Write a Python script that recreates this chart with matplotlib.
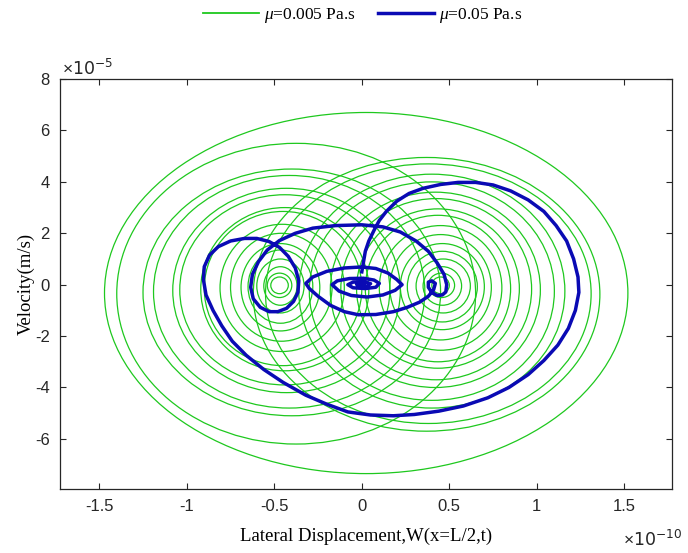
import matplotlib
matplotlib.use("Agg")
import matplotlib.pyplot as plt
from matplotlib.patches import Ellipse
import numpy as np

plt.rcParams['axes.unicode_minus'] = False
plt.rcParams['mathtext.fontset'] = 'custom'
plt.rcParams['mathtext.rm'] = 'Liberation Sans'
plt.rcParams['mathtext.it'] = 'Liberation Serif:italic'

# mu = 0.005 Pa.s : closed loops
# (left edge, right edge, top, bottom) in units of 1e-10 m and 1e-5 m/s
left_L = [-0.52, -0.54, -0.56, -0.60, -0.65, -0.69, -0.75, -0.81, -0.90, -0.92, -1.04, -1.08, -1.19, -1.25, -1.40]
left_R = [-0.42, -0.40, -0.37, -0.33, -0.28, -0.24, -0.17, -0.10, 0.00, 0.04, 0.16, 0.22, 0.36, 0.45, 0.65]
left_T = [0.3, 0.45, 0.7, 1.0, 1.35, 1.6, 2.0, 2.35, 2.85, 3.0, 3.5, 3.75, 4.25, 4.5, 5.5]
left_B = [-0.35, -0.5, -0.8, -1.1, -1.5, -1.8, -2.2, -2.6, -3.15, -3.35, -3.9, -4.2, -4.8, -5.1, -6.2]

right_L = [0.40, 0.38, 0.35, 0.31, 0.26, 0.22, 0.16, 0.10, 0.02, -0.03, -0.12, -0.18, -0.30, -0.36, -0.55, -0.62]
right_R = [0.50, 0.53, 0.57, 0.62, 0.66, 0.70, 0.74, 0.80, 0.85, 0.90, 0.97, 1.02, 1.10, 1.16, 1.31, 1.36]
right_T = [0.3, 0.45, 0.7, 1.0, 1.3, 1.6, 1.95, 2.3, 2.7, 2.95, 3.35, 3.6, 4.0, 4.3, 4.7, 4.95]
right_B = [-0.35, -0.5, -0.8, -1.1, -1.45, -1.75, -2.15, -2.55, -3.0, -3.25, -3.7, -4.0, -4.5, -4.8, -5.4, -5.7]

outer_L = [-1.47]
outer_R = [1.52]
outer_T = [6.7]
outer_B = [-7.35]

# mu = 0.05 Pa.s : trajectory points
blue_x = [0.0, 0.01, 0.02, 0.04, 0.07, 0.1, 0.14, 0.2, 0.27, 0.35, 0.45, 0.55, 0.65, 0.75, 0.85,
          0.95, 1.04, 1.11, 1.17, 1.21, 1.235, 1.24, 1.22, 1.18, 1.12, 1.04, 0.95, 0.84, 0.72,
          0.58, 0.44, 0.3, 0.18, 0.05, -0.08, -0.2, -0.32, -0.45, -0.56, -0.66, -0.74, -0.8,
          -0.85, -0.89, -0.905, -0.9, -0.87, -0.82, -0.75, -0.67, -0.6, -0.53, -0.47, -0.42,
          -0.38, -0.36, -0.365, -0.39, -0.43, -0.48, -0.53, -0.58, -0.62, -0.635, -0.625, -0.59,
          -0.54, -0.47, -0.38, -0.28, -0.15, 0.0, 0.12, 0.22, 0.31, 0.38, 0.43, 0.47, 0.485,
          0.48, 0.46, 0.43, 0.40, 0.38, 0.38, 0.40, 0.42, 0.41, 0.38, 0.33, 0.26, 0.18, 0.08,
          -0.02, -0.1, -0.18, -0.25, -0.3, -0.32, -0.28, -0.2, -0.1, 0.0, 0.08, 0.15, 0.2, 0.23,
          0.19, 0.12, 0.03, -0.06, -0.13, -0.17, -0.14, -0.07, 0.01, 0.07, 0.1, 0.08, 0.02,
          -0.05, -0.08, -0.05, 0.01, 0.05, 0.03, -0.02, -0.03, 0.0, 0.01]
blue_y = [0.5, 0.9, 1.3, 1.7, 2.12, 2.5, 2.85, 3.25, 3.55, 3.75, 3.9, 3.98, 3.98, 3.88, 3.65,
          3.3, 2.85, 2.3, 1.7, 1.0, 0.3, -0.3, -1.0, -1.7, -2.35, -2.95, -3.5, -4.0, -4.4,
          -4.72, -4.92, -5.05, -5.1, -5.07, -4.95, -4.65, -4.3, -3.8, -3.3, -2.75, -2.2, -1.6,
          -1.0, -0.4, 0.2, 0.7, 1.15, 1.48, 1.7, 1.8, 1.8, 1.68, 1.45, 1.1,
          0.65, 0.15, -0.3, -0.65, -0.92, -1.05, -1.05, -0.88, -0.55, -0.1, 0.4, 0.9,
          1.35, 1.72, 2.0, 2.2, 2.3, 2.33, 2.25, 2.05, 1.7, 1.3, 0.85, 0.4, 0.0,
          -0.28, -0.4, -0.42, -0.3, -0.1, 0.1, 0.15, 0.05, -0.2, -0.45, -0.68, -0.88, -1.05, -1.16,
          -1.17, -1.05, -0.8, -0.45, -0.15, 0.05, 0.3, 0.52, 0.65, 0.69, 0.63, 0.45, 0.2, 0.0,
          -0.22, -0.4, -0.48, -0.42, -0.25, 0.0, 0.15, 0.24, 0.25, 0.18, 0.05, -0.1, -0.15,
          -0.12, 0.0, 0.1, 0.12, 0.04, -0.06, -0.06, 0.02, 0.04, 0.0]

green = '#1ec81e'
blue = '#0a0ab4'

fig = plt.figure(figsize=(6.88, 5.53), dpi=100)
ax = fig.add_axes([0.0865, 0.1157, 0.8905, 0.7413])

for L, R, T, B in zip(left_L + right_L + outer_L, left_R + right_R + outer_R,
                      left_T + right_T + outer_T, left_B + right_B + outer_B):
    ax.add_patch(Ellipse(((L + R) / 2, (T + B) / 2), R - L, T - B,
                         fill=False, edgecolor=green, linewidth=0.9))

ax.plot([], [], color=green, linewidth=1.3, label=r'$\mu$=0.005 Pa.s')
ax.plot(blue_x, blue_y, color=blue, linewidth=2.5, solid_joinstyle='round',
        label=r'$\mu$=0.05 Pa.s')

ax.set_xlim(-1.727, 1.773)
ax.set_ylim(-7.95, 8)
ax.set_xticks(np.arange(-1.5, 1.51, 0.5))
ax.set_xticklabels(['-1.5', '-1', '-0.5', '0', '0.5', '1', '1.5'])
ax.set_yticks(np.arange(-6, 8.1, 2))
ax.set_yticklabels(['-6', '-4', '-2', '0', '2', '4', '6', '8'])
ax.tick_params(direction='in', top=True, right=True, length=4, width=0.8,
               labelsize=12, colors='#262626', pad=7)
for lab in ax.get_xticklabels() + ax.get_yticklabels():
    lab.set_fontfamily('Liberation Sans')
for s in ax.spines.values():
    s.set_color('#262626')
    s.set_linewidth(0.9)

ax.set_xlabel('Lateral Displacement,W(x=L/2,t)', fontfamily='Liberation Serif',
              fontsize=13.5, labelpad=10)
ax.set_ylabel('Velocity(m/s)', fontfamily='Liberation Serif', fontsize=13.5, labelpad=0)

fig.text(62 / 688, 1 - 75 / 553, r'$\times\mathregular{10^{-5}}$', fontsize=12.5,
         ha='left', va='baseline', color='#262626')
fig.text(682 / 688, 1 - 546 / 553, r'$\times\mathregular{10^{-10}}$', fontsize=12.5,
         ha='right', va='baseline', color='#262626')

fig.legend(loc='center', bbox_to_anchor=(0.527, 0.972), ncol=2, frameon=False,
           handlelength=3.2, columnspacing=1.3, handletextpad=0.3,
           prop={'family': 'Liberation Serif', 'size': 12.5})

fig.savefig('out.png', dpi=100)
